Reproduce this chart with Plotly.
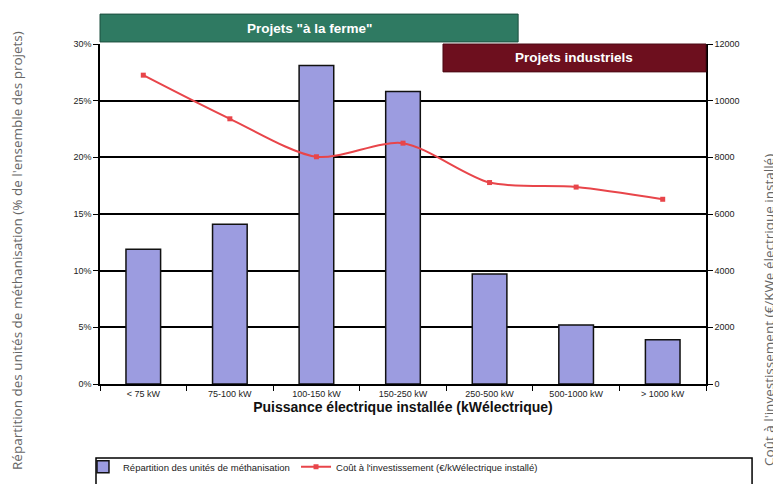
import plotly.graph_objects as go

categories = ["< 75 kW", "75-100 kW", "100-150 kW", "150-250 kW", "250-500 kW", "500-1000 kW", "> 1000 kW"]
repartition = [0.119, 0.141, 0.281, 0.258, 0.097, 0.052, 0.039]
cout = [10900, 9360, 8020, 8500, 7110, 6950, 6520]
pct_ticks = [0, 0.05, 0.10, 0.15, 0.20, 0.25, 0.30]
cost_ticks = [0, 2000, 4000, 6000, 8000, 10000, 12000]

tick_font = dict(family="Liberation Sans, Arial", size=9, color="#222")
legend_font = dict(family="Liberation Sans, Arial", size=9.5, color="#222")

fig = go.Figure()
fig.add_trace(go.Bar(
    x=categories, y=repartition, name="Répartition des unités de méthanisation",
    marker=dict(color="#9c9ce0", line=dict(color="#111", width=1.5)),
    width=0.4, yaxis="y", legend="legend",
))
fig.add_trace(go.Scatter(
    x=categories, y=cout, name="Coût à l'investissement (€/kWélectrique installé)",
    mode="lines+markers", line=dict(color="#e8454a", width=2, shape="spline", smoothing=0.8),
    marker=dict(symbol="square", size=5, color="#e8454a"), yaxis="y2", legend="legend2",
))

fig.update_layout(
    width=773, height=476,
    margin=dict(l=92, r=75, t=36, b=100, autoexpand=False),
    paper_bgcolor="white", plot_bgcolor="white",
    bargap=0.6,
    showlegend=True,
    legend=dict(xref="container", yref="container", x=0.097, y=0.036, xanchor="left", yanchor="middle",
                font=legend_font, bgcolor="rgba(0,0,0,0)"),
    legend2=dict(xref="container", yref="container", x=0.3726, y=0.036, xanchor="left", yanchor="middle",
                 font=legend_font, bgcolor="rgba(0,0,0,0)"),
    xaxis=dict(type="category", showline=True, linecolor="black", linewidth=1.5,
               ticks="outside", tickson="boundaries", ticklen=5, tickcolor="black",
               tickfont=tick_font, showgrid=False, mirror=False, automargin=False,
               title=dict(text="<b>Puissance électrique installée (kWélectrique)</b>",
                          font=dict(family="Liberation Sans, Arial", size=14, color="#111"),
                          standoff=0)),
    yaxis=dict(range=[0, 0.30], tickvals=pct_ticks, tickformat=".0%", showgrid=True,
               gridcolor="black", gridwidth=1.5, showline=True, linecolor="black", linewidth=1.5,
               ticks="outside", ticklen=5, tickcolor="black", tickfont=tick_font, zeroline=False,
               automargin=False),
    yaxis2=dict(range=[0, 12000], tickvals=cost_ticks, tickformat="d", overlaying="y", side="right",
                showgrid=False, showline=True, linecolor="black", linewidth=1.5,
                ticks="outside", ticklen=5, tickcolor="black", tickfont=tick_font, zeroline=False,
                automargin=False),
)

# Banner shapes
fig.add_shape(type="rect", xref="paper", yref="paper", x0=0.0, x1=0.69, y0=1.006, y1=1.088,
              fillcolor="#2f7a62", line=dict(color="#1d4f3f", width=1), layer="above")
fig.add_annotation(xref="paper", yref="paper", x=0.345, y=1.047, xanchor="center", yanchor="middle",
                   text="<b>Projets \"à la ferme\"</b>",
                   showarrow=False, font=dict(family="Liberation Sans, Arial", size=13.5, color="white"))
fig.add_shape(type="rect", xref="paper", yref="paper", x0=0.566, x1=1.0, y0=0.918, y1=1.0,
              fillcolor="#6d0f1e", line=dict(color="#4a0a14", width=1), layer="above")
fig.add_annotation(xref="paper", yref="paper", x=0.783, y=0.959, xanchor="center", yanchor="middle",
                   text="<b>Projets industriels</b>",
                   showarrow=False, font=dict(family="Liberation Sans, Arial", size=13.5, color="white"))

# Legend box
fig.add_shape(type="rect", xref="paper", yref="paper", x0=-0.0066, x1=1.076, y0=-0.30, y1=-0.218,
              fillcolor="rgba(0,0,0,0)", line=dict(color="black", width=1.5))

# Axis titles as annotations
fig.add_annotation(xref="paper", yref="paper", x=-0.137, y=0.394, xanchor="center", yanchor="middle",
                   text="Répartition des unités de méthanisation (% de l'ensemble des projets)",
                   textangle=-90, showarrow=False,
                   font=dict(family="Open Sans", size=13.5, color="#666"))
fig.add_annotation(xref="paper", yref="paper", x=1.104, y=0.218, xanchor="center", yanchor="middle",
                   text="Coût à l'investissement (€/KWe électrique installé)",
                   textangle=-90, showarrow=False,
                   font=dict(family="Open Sans", size=13.5, color="#666"))

fig.write_html("out.html")
